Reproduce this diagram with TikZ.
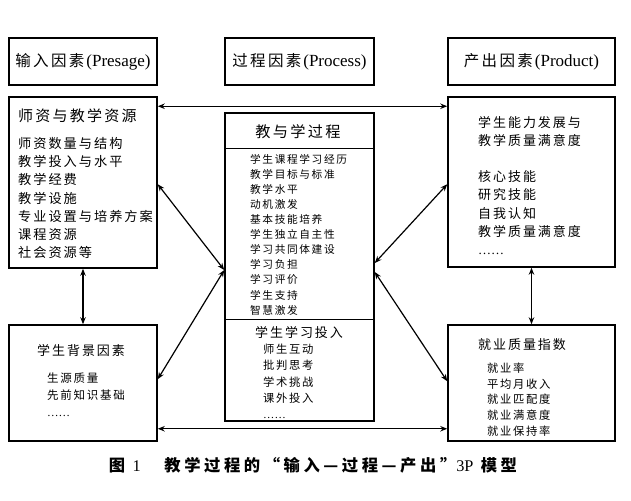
\documentclass[tikz,border=0pt]{standalone}
\usepackage{fontspec}
\setmainfont{Liberation Serif}
\newfontfamily\cjk[LetterSpace=15]{Noto Sans CJK SC}
\newfontfamily\cjkc[LetterSpace=22]{Noto Sans CJK SC}
\usetikzlibrary{arrows.meta}
\tikzset{
  box/.style={draw, line width=1.5pt, rectangle, inner sep=0pt},
  txt/.style={inner sep=0pt, align=left, anchor=west},
  ctxt/.style={inner sep=0pt, align=center, anchor=center},
  arr/.style={{Stealth[length=7pt,width=5.5pt]}-{Stealth[length=7pt,width=5.5pt]}, line width=1.2pt},
  divider/.style={line width=1.5pt}
}
\newcommand{\hsz}{\fontsize{15.5}{18}\cjk}
\newcommand{\lsz}[2]{\fontsize{#1}{#2}\cjk}
\newcommand{\dotsline}{{\rmfamily ……}}
\begin{document}
\begin{tikzpicture}[x=1pt,y=-1pt]
\fill[white] (0,0) rectangle (631,500);
\useasboundingbox (0,0) rectangle (631,500);

% header boxes
\node[box, minimum width=148pt, minimum height=47pt] (hIn) at (83,61.5) {};
\node[box, minimum width=149pt, minimum height=47pt] (hPro) at (299.5,61.5) {};
\node[box, minimum width=167pt, minimum height=47pt] (hOut) at (531.5,61.5) {};
\node[ctxt, font=\hsz] (hInT) at (hIn) {输入因素\hspace{2pt}{\fontsize{17}{18}\rmfamily (Presage)}};
\node[ctxt, font=\hsz] (hProT) at (hPro) {过程因素\hspace{2pt}{\fontsize{17}{18}\rmfamily (Process)}};
\node[ctxt, font=\hsz] (hOutT) at (hOut) {产出因素\hspace{2pt}{\fontsize{17}{18}\rmfamily (Product)}};

% main boxes
\node[box, minimum width=148pt, minimum height=171pt] (res) at (83,182.5) {};
\node[box, minimum width=149pt, minimum height=308pt] (proc) at (299.5,267) {};
\node[box, minimum width=167pt, minimum height=170pt] (outTop) at (531.5,182) {};
\node[box, minimum width=148pt, minimum height=116pt] (bg) at (83,383) {};
\node[box, minimum width=167pt, minimum height=116pt] (emp) at (531.5,383) {};

\draw[divider] ([yshift=-36pt]proc.north west) -- ([yshift=-36pt]proc.north east);
\draw[divider] ([yshift=-207pt]proc.north west) -- ([yshift=-207pt]proc.north east);

% texts
\node[txt, font={\lsz{15}{18}}] (resT) at (18,116) {师资与教学资源};
\node[txt, font={\lsz{13.2}{18.3}}] (resL) at (18,198) {师资数量与结构\\教学投入与水平\\教学经费\\教学设施\\专业设置与培养方案\\课程资源\\社会资源等};

\node[ctxt, font={\lsz{15.2}{18}}] (procT) at (298,132) {教与学过程};
\node[txt, font={\lsz{10.7}{15.1}}] (procL) at (250,234.5) {学生课程学习经历\\教学目标与标准\\教学水平\\动机激发\\基本技能培养\\学生独立自主性\\学习共同体建设\\学习负担\\学习评价\\学生支持\\智慧激发};
\node[txt, font={\lsz{13}{16}}] (engT) at (255,333) {学生学习投入};
\node[txt, font={\lsz{11.3}{16.2}}] (engL) at (263,381.5) {师生互动\\批判思考\\学术挑战\\课外投入\\\dotsline};

\node[txt, font={\lsz{13}{18.1}}] (outL) at (478,185.5) {学生能力发展与\\教学质量满意度\\[18.1pt]核心技能\\研究技能\\自我认知\\教学质量满意度\\\dotsline};

\node[txt, font={\lsz{13}{16}}] (bgT) at (37,351) {学生背景因素};
\node[txt, font={\lsz{11.5}{17}}] (bgL) at (47,395) {生源质量\\先前知识基础\\\dotsline};

\node[txt, font={\lsz{13}{16}}] (empT) at (478,345) {就业质量指数};
\node[txt, font={\lsz{11.3}{15.8}}] (empL) at (487,399.5) {就业率\\平均月收入\\就业匹配度\\就业满意度\\就业保持率};

% caption
\node[ctxt, font={\fontsize{16.3}{18}\cjkc\bfseries}] (cap) at (313,465) {图\ {\rmfamily\mdseries 1}\quad\ 教学过程的“输入—过程—产出”{\rmfamily\mdseries 3P}\ 模型};

% connectors
\draw[arr] ([yshift=-10pt]res.north east) -- ([yshift=-10pt]outTop.north west);
\draw[arr] ([yshift=13pt]bg.south east) -- ([yshift=13pt]emp.south west);
\draw[arr] (res.south) -- (bg.north);
\draw[arr] (outTop.south) -- (emp.north);
\draw[arr] ([yshift=-88pt]res.north east) -- ([yshift=-3pt]proc.west);
\draw[arr] ([yshift=-55pt]bg.north east) -- ([yshift=-3pt]proc.west);
\draw[arr] ([yshift=4pt]proc.east) -- ([yshift=-88pt]outTop.north west);
\draw[arr] ([yshift=-5pt]proc.east) -- ([yshift=-57pt]emp.north west);
\end{tikzpicture}
\end{document}
